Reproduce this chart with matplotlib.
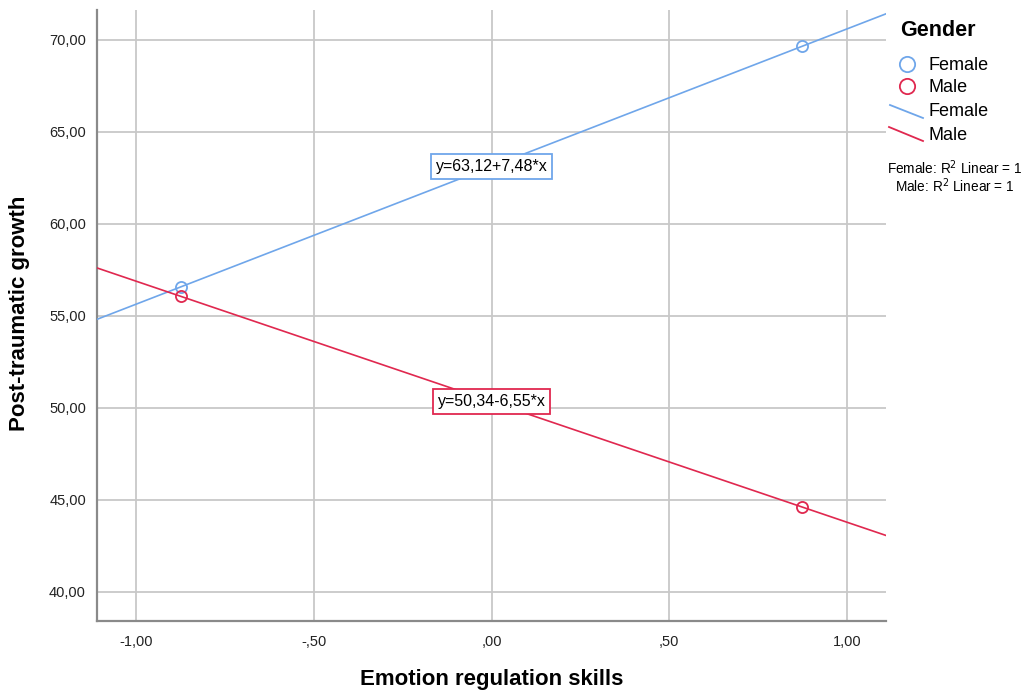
import matplotlib
matplotlib.use("Agg")
import matplotlib.pyplot as plt
from matplotlib.lines import Line2D
import numpy as np

plt.rcParams['font.family'] = ['Liberation Sans', 'DejaVu Sans']

# Data
groups = ["Female", "Male"]
x_points = [-0.875, 0.875]
female_y = [56.58, 69.67]
male_y = [56.07, 44.61]
female_fit = (63.12, 7.48)
male_fit = (50.34, -6.55)
female_eq = "y=63,12+7,48*x"
male_eq = "y=50,34-6,55*x"
x_ticks = [-1.0, -0.5, 0.0, 0.5, 1.0]
x_ticklabels = ["-1,00", "-,50", ",00", ",50", "1,00"]
y_ticks = [40, 45, 50, 55, 60, 65, 70]
y_ticklabels = ["40,00", "45,00", "50,00", "55,00", "60,00", "65,00", "70,00"]

c_f = "#6fa6ea"
c_m = "#e0284f"

W, H = 1030, 694
fig = plt.figure(figsize=(W / 100, H / 100), dpi=100)
ax = fig.add_axes([97 / W, (H - 621) / H, (886 - 97) / W, (621 - 10) / H])

xlim = (-1.11, 1.11)
ax.set_xlim(*xlim)
ax.set_ylim(38.42, 71.63)

ax.set_xticks(x_ticks)
ax.set_xticklabels(x_ticklabels)
ax.set_yticks(y_ticks)
ax.set_yticklabels(y_ticklabels)
ax.tick_params(length=0, labelsize=10.5, colors="#222222")
ax.tick_params(axis='x', pad=10)
ax.tick_params(axis='y', pad=8)
ax.grid(True, color="#c8c8c8", lw=1.3)
ax.set_axisbelow(True)
for s in ["top", "right"]:
    ax.spines[s].set_visible(False)
for s in ["left", "bottom"]:
    ax.spines[s].set_color("#8a8a8a")
    ax.spines[s].set_linewidth(1.6)

xx = np.array(xlim)
ax.plot(xx, female_fit[0] + female_fit[1] * xx, color=c_f, lw=1.2, zorder=3)
ax.plot(xx, male_fit[0] + male_fit[1] * xx, color=c_m, lw=1.2, zorder=3)
ax.plot(x_points, female_y, 'o', mfc='none', mec=c_f, ms=8, mew=1.3, zorder=4)
ax.plot(x_points, male_y, 'o', mfc='none', mec=c_m, ms=8, mew=1.3, zorder=4)

ax.text(0, female_fit[0], female_eq, ha='center', va='center', fontsize=11.5, zorder=5,
        bbox=dict(boxstyle='square,pad=0.3', fc='white', ec=c_f, lw=1.3))
ax.text(0, male_fit[0], male_eq, ha='center', va='center', fontsize=11.5, zorder=5,
        bbox=dict(boxstyle='square,pad=0.3', fc='white', ec=c_m, lw=1.3))

# Legend / labels (manual, figure pixel coordinates)
def fx(px):
    return px / W

def fy(py):
    return 1 - py / H

fig.text(fx(492), fy(680), "Emotion regulation skills", fontsize=16, fontweight='bold',
         va='center', ha='center')
fig.text(fx(20), fy(313), "Post-traumatic growth", fontsize=16, fontweight='bold',
         va='center', ha='center', rotation=90)

fig.text(fx(900), fy(31), "Gender", fontsize=15.5, fontweight='bold', va='center', ha='left')
fig.add_artist(Line2D([fx(907)], [fy(64)], marker='o', mfc='none', mec=c_f, ms=11, mew=1.3, ls='none'))
fig.text(fx(929), fy(66), groups[0], fontsize=13, va='center', ha='left')
fig.add_artist(Line2D([fx(907)], [fy(86)], marker='o', mfc='none', mec=c_m, ms=11, mew=1.3, ls='none'))
fig.text(fx(929), fy(88), groups[1], fontsize=13, va='center', ha='left')
fig.add_artist(Line2D([fx(890), fx(923)], [fy(105), fy(118)], color=c_f, lw=1.3))
fig.text(fx(929), fy(112), groups[0], fontsize=13, va='center', ha='left')
fig.add_artist(Line2D([fx(889), fx(923)], [fy(127), fy(141)], color=c_m, lw=1.3))
fig.text(fx(929), fy(136), groups[1], fontsize=13, va='center', ha='left')
fig.text(fx(887), fy(168), "Female: R$^2$ Linear = 1", fontsize=9.8, va='center', ha='left')
fig.text(fx(895), fy(186), "Male: R$^2$ Linear = 1", fontsize=9.8, va='center', ha='left')

fig.savefig("out.png", dpi=100)
